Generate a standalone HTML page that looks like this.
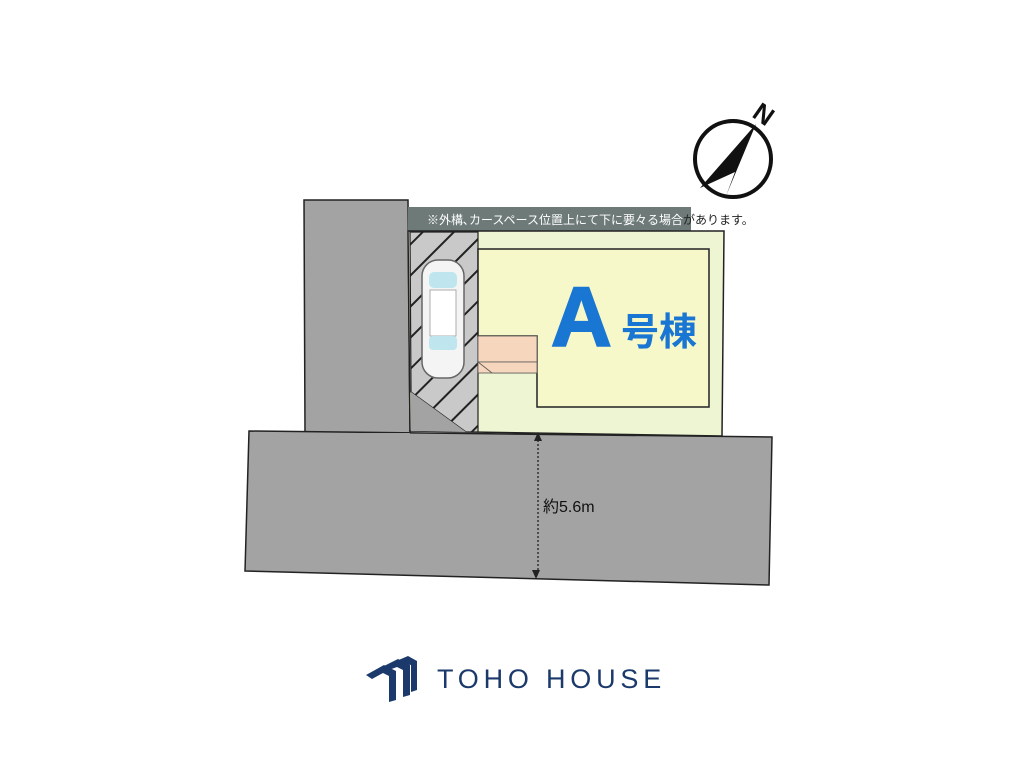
<!DOCTYPE html>
<html><head><meta charset="utf-8"><style>
html,body{margin:0;padding:0;background:#fff;}
svg{display:block}
</style></head><body>
<svg width="1024" height="765" viewBox="0 0 1024 765" xmlns="http://www.w3.org/2000/svg">
<defs>
<pattern id="h" width="22" height="22" patternUnits="userSpaceOnUse" patternTransform="rotate(45)">
<rect width="22" height="22" fill="#c9c9c9"/>
<rect x="0" y="0" width="2" height="22" fill="#222"/>
</pattern>
</defs>
<polygon points="304,200 408,200 410,433 305,433" fill="#a3a3a3" stroke="#222" stroke-width="1.5"/>
<polygon points="249,431 772,437 769,585 245,571" fill="#a3a3a3" stroke="#222" stroke-width="1.5"/>
<rect x="304" y="433" width="106" height="2" fill="#a3a3a3"/>
<rect x="408" y="207" width="283" height="24" fill="#6d7a78"/>
<text x="427" y="224" font-family="Liberation Sans,'Noto Sans CJK JP',sans-serif" font-size="12" fill="#fff">※外構､カースペース位置上にて下に要々る場合<tspan fill="#222">があります。</tspan></text>
<polygon points="408,231 724,231 722,436 410,431" fill="#eef5d2" stroke="#222" stroke-width="1.5"/>
<polygon points="410,232 478,232 478,432 466,432 411,392" fill="url(#h)" stroke="#222" stroke-width="1.2"/>
<polygon points="411,392 466,432 411,431" fill="#a3a3a3"/>
<polygon points="478,249 709,249 709,407 537,407 537,336 478,336" fill="#f7f8c9" stroke="#222" stroke-width="1.5"/>
<rect x="478" y="336" width="59" height="37" fill="#f6d7bd" stroke="#555" stroke-width="0.8"/>
<line x1="478" y1="362" x2="537" y2="362" stroke="#555" stroke-width="0.8"/>
<polygon points="478,362 537,362 537,373 492,373" fill="#f6d7bd" stroke="#555" stroke-width="0.8"/>
<rect x="422" y="260" width="42" height="118" rx="16" fill="#f4f4f4" stroke="#666" stroke-width="1.5"/>
<rect x="429" y="272" width="28" height="16" rx="5" fill="#bfe6ee"/>
<rect x="430" y="290" width="26" height="46" fill="#fff" stroke="#999" stroke-width="0.8"/>
<rect x="429" y="336" width="28" height="14" rx="4" fill="#bfe6ee"/>
<text x="551" y="346" font-family="'Liberation Sans',sans-serif" font-weight="900" font-size="84" fill="#1976d2" stroke="#1976d2" stroke-width="2">A</text>
<text x="621" y="345" font-family="'Liberation Sans','Noto Sans CJK JP',sans-serif" font-weight="bold" font-size="38" fill="#1976d2">号棟</text>
<line x1="538" y1="440" x2="538" y2="572" stroke="#222" stroke-width="1.3" stroke-dasharray="2,2"/>
<polygon points="538,432 534,441 542,441" fill="#222"/>
<polygon points="536,579 532,570 540,570" fill="#222"/>
<text x="543" y="512" font-family="'Liberation Sans','Noto Sans CJK JP',sans-serif" font-size="16" fill="#111">約5.6m</text>
<circle cx="733" cy="159" r="38" fill="#fff" stroke="#111" stroke-width="4"/>
<polygon points="756,124 700,188 735,172 726,196" fill="#111"/>
<text x="756" y="124" font-family="'Liberation Sans',sans-serif" font-weight="bold" font-size="26" fill="#111" transform="rotate(35 766 112)">N</text>
<g fill="#1b3a6b">
<polygon points="366,675 384,665 396,671 396,700 389,702 389,676 383,673 372,679"/>
<polygon points="380,668 398,659 410,665 410,695 403,697 403,670 397,667 386,671"/>
<polygon points="394,662 408,656 417,661 417,690 411,692 411,665"/>
</g>
<text x="437" y="688" font-family="'Liberation Sans',sans-serif" font-size="27" letter-spacing="4.8" fill="#1b3a6b">TOHO HOUSE</text>
</svg>
</body></html>
